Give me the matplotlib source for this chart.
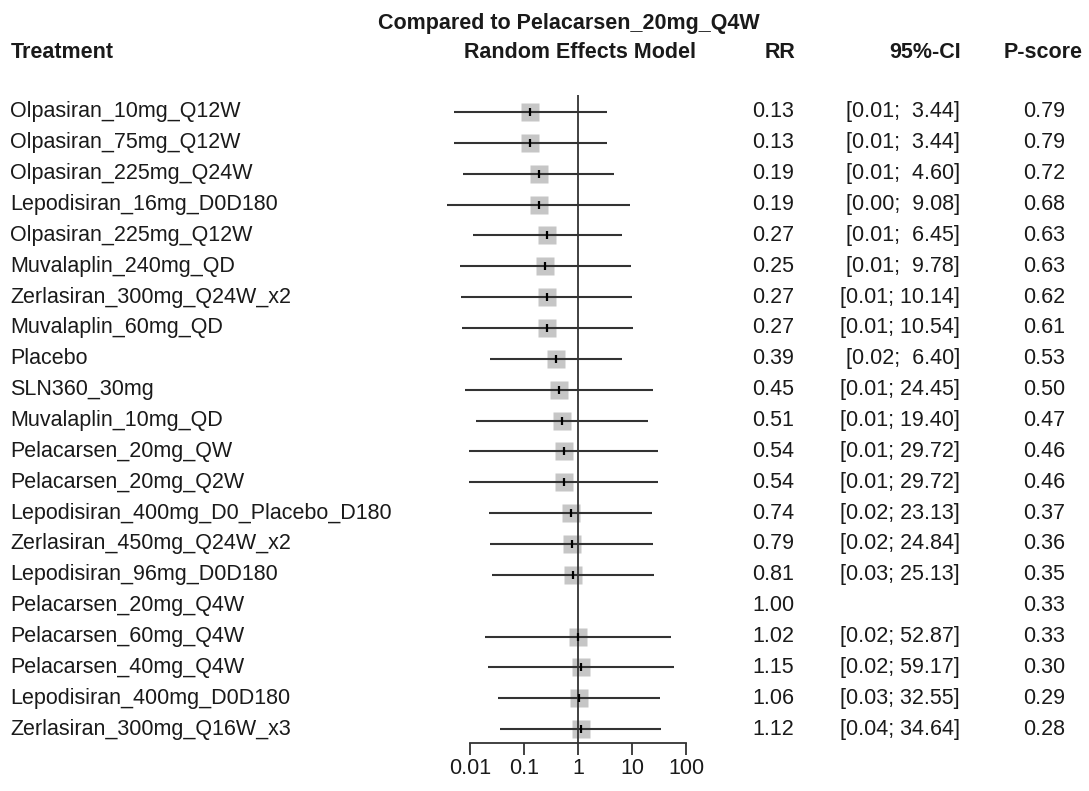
import numpy as np
import matplotlib
matplotlib.use("Agg")
import matplotlib.pyplot as plt
import matplotlib.transforms as mtransforms

plt.rcParams['font.family'] = ['Liberation Sans', 'DejaVu Sans']

# data
treatments = ["Olpasiran_10mg_Q12W", "Olpasiran_75mg_Q12W", "Olpasiran_225mg_Q24W",
              "Lepodisiran_16mg_D0D180", "Olpasiran_225mg_Q12W", "Muvalaplin_240mg_QD",
              "Zerlasiran_300mg_Q24W_x2", "Muvalaplin_60mg_QD", "Placebo", "SLN360_30mg",
              "Muvalaplin_10mg_QD", "Pelacarsen_20mg_QW", "Pelacarsen_20mg_Q2W",
              "Lepodisiran_400mg_D0_Placebo_D180", "Zerlasiran_450mg_Q24W_x2",
              "Lepodisiran_96mg_D0D180", "Pelacarsen_20mg_Q4W", "Pelacarsen_60mg_Q4W",
              "Pelacarsen_40mg_Q4W", "Lepodisiran_400mg_D0D180", "Zerlasiran_300mg_Q16W_x3"]
rr = [0.13, 0.13, 0.19, 0.19, 0.27, 0.25, 0.27, 0.27, 0.39, 0.45, 0.51,
      0.54, 0.54, 0.74, 0.79, 0.81, 1.00, 1.02, 1.15, 1.06, 1.12]
lower = [0.0051, 0.0051, 0.0073, 0.0037, 0.0115, 0.0065, 0.0068, 0.0070, 0.0235, 0.0081, 0.0129,
         0.0097, 0.0097, 0.0228, 0.0235, 0.026, np.nan, 0.019, 0.0218, 0.0335, 0.036]
upper = [3.44, 3.44, 4.60, 9.08, 6.45, 9.78, 10.14, 10.54, 6.40, 24.45, 19.40,
         29.72, 29.72, 23.13, 24.84, 25.13, np.nan, 52.87, 59.17, 32.55, 34.64]
pscore = [0.79, 0.79, 0.72, 0.68, 0.63, 0.63, 0.62, 0.61, 0.53, 0.50, 0.47,
          0.46, 0.46, 0.37, 0.36, 0.35, 0.33, 0.33, 0.30, 0.29, 0.28]
ticks = [0.01, 0.1, 1, 10, 100]
tick_labels = ["0.01", "0.1", "1", "10", "100"]

W, H = 1089, 791
fig = plt.figure(figsize=(W / 100, H / 100), dpi=100)

def fx(px):
    return px / W

def fy(py):
    return 1 - py / H

# forest panel: x 470..686 px, y 95..743 px
ax = fig.add_axes([fx(470), fy(743), fx(686) - fx(470), fy(95) - fy(743)])
ax.set_xscale('log')
ax.set_xlim(0.01, 100)
n = len(treatments)
rows = np.arange(n)
ax.set_ylim(20.45, -0.55)

line_c = '#333333'
txt_c = '#1a1a1a'
ax.hlines(rows, lower, upper, color=line_c, lw=1.5, zorder=3, clip_on=False)
has_ci = ~np.isnan(np.array(upper))
ax.plot(np.array(rr)[has_ci], rows[has_ci], 's', ms=12.3, color='#c6c6c6', mec='none', zorder=2)
ax.plot(np.array(rr)[has_ci], rows[has_ci], '|', ms=6, mew=1.6, color='black', zorder=4)
ax.axvline(1, color=line_c, lw=1.3, zorder=3)

for s in ['left', 'right', 'top']:
    ax.spines[s].set_visible(False)
ax.spines['bottom'].set_color(line_c)
ax.spines['bottom'].set_linewidth(1.3)
ax.set_yticks([])
ax.set_xticks(ticks)
ax.set_xticklabels(tick_labels)
ax.minorticks_off()
ax.tick_params(axis='x', length=8.5, width=1.3, color=line_c, pad=2,
               labelsize=15.5, labelcolor=txt_c)
ax.patch.set_alpha(0)

# text columns aligned to the rows
tr = mtransforms.blended_transform_factory(fig.transFigure, ax.transData)
fs = 15.5
for i in range(n):
    ax.text(fx(10), i, treatments[i], transform=tr, ha='left', va='center', fontsize=fs, color=txt_c)
    ax.text(fx(794), i, '%.2f' % rr[i], transform=tr, ha='right', va='center', fontsize=fs, color=txt_c)
    if not np.isnan(upper[i]):
        ci = '[%.2f; %5.2f]' % (lower[i], upper[i])
        ax.text(fx(960), i, ci, transform=tr, ha='right', va='center', fontsize=fs, color=txt_c)
    ax.text(fx(1044), i, '%.2f' % pscore[i], transform=tr, ha='center', va='center', fontsize=fs, color=txt_c)

# headers
hy = fy(53)
fig.text(fx(569), fy(23), 'Compared to Pelacarsen_20mg_Q4W', ha='center', va='center',
         fontsize=fs, fontweight='bold', color=txt_c)
fig.text(fx(11), hy, 'Treatment', ha='left', va='center', fontsize=fs, fontweight='bold', color=txt_c)
fig.text(fx(580), hy, 'Random Effects Model', ha='center', va='center', fontsize=fs, fontweight='bold', color=txt_c)
fig.text(fx(795), hy, 'RR', ha='right', va='center', fontsize=fs, fontweight='bold', color=txt_c)
fig.text(fx(961), hy, '95%-CI', ha='right', va='center', fontsize=fs, fontweight='bold', color=txt_c)
fig.text(fx(1043), hy, 'P-score', ha='center', va='center', fontsize=fs, fontweight='bold', color=txt_c)

fig.savefig('out.png', dpi=100)
